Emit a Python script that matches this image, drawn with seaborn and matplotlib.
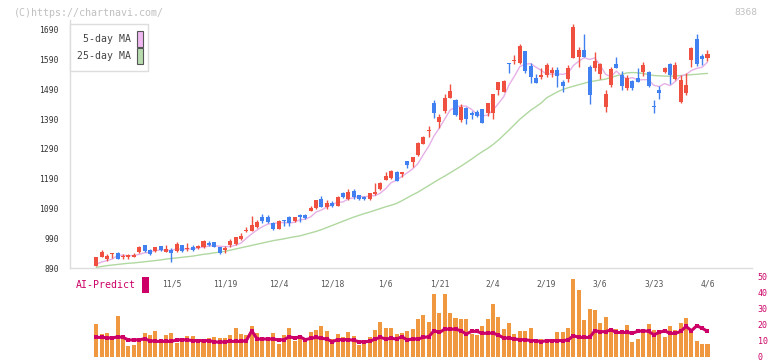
import numpy as np
import matplotlib
matplotlib.use("Agg")
import matplotlib.pyplot as plt
from matplotlib.patches import Rectangle
import seaborn as sns

sns.set_theme(style="white")
plt.rcParams["font.family"] = ["DejaVu Sans Mono"]

# %% Data (day -1 is the clipped candle at the left edge)
opens = [870,
         898, 928, 919, 937, 940, 927, 928, 928, 944, 967,
         950, 947, 964, 945, 949, 947, 967, 954, 960, 958,
         960, 973, 977, 960, 950, 967, 970, 987, 1015, 1014,
         1029, 1060, 1060, 1040, 1021, 1051, 1063, 1047, 1067, 1069,
         1083, 1091, 1122, 1096, 1110, 1100, 1143, 1121, 1149, 1135,
         1130, 1122, 1139, 1155, 1186, 1192, 1214, 1205, 1250, 1247,
         1270, 1308, 1349, 1446, 1382, 1419, 1462, 1455, 1387, 1427,
         1410, 1415, 1424, 1411, 1411, 1488, 1483, 1579, 1587, 1578,
         1619, 1569, 1530, 1533, 1539, 1546, 1555, 1516, 1525, 1597,
         1598, 1623, 1567, 1563, 1542, 1432, 1505, 1576, 1539, 1496,
         1520, 1530, 1548, 1548, 1434, 1488, 1548, 1576, 1525, 1447,
         1477, 1589, 1660, 1603, 1596]
closes = [889,
          927, 944, 931, 940, 921, 930, 934, 934, 960, 947,
          938, 960, 951, 954, 941, 970, 947, 958, 952, 963,
          981, 967, 962, 941, 957, 981, 993, 999, 1019, 1033,
          1045, 1049, 1046, 1021, 1049, 1049, 1042, 1060, 1060, 1058,
          1092, 1119, 1096, 1110, 1098, 1130, 1128, 1144, 1130, 1122,
          1121, 1143, 1147, 1177, 1199, 1217, 1184, 1212, 1237, 1263,
          1311, 1331, 1354, 1412, 1396, 1460, 1485, 1404, 1432, 1391,
          1405, 1401, 1378, 1445, 1475, 1515, 1519, 1575, 1590, 1636,
          1553, 1533, 1511, 1539, 1572, 1555, 1535, 1502, 1563, 1701,
          1623, 1598, 1471, 1586, 1576, 1475, 1559, 1563, 1503, 1530,
          1496, 1516, 1572, 1503, 1431, 1479, 1563, 1539, 1572, 1522,
          1505, 1630, 1576, 1592, 1609]
highs = [889,
         928, 950, 937, 940, 944, 938, 937, 940, 964, 967,
         954, 960, 964, 967, 958, 977, 967, 974, 967, 967,
         983, 981, 977, 962, 964, 987, 995, 1009, 1027, 1065,
         1050, 1071, 1068, 1045, 1051, 1051, 1064, 1062, 1073, 1071,
         1097, 1120, 1132, 1119, 1115, 1133, 1146, 1155, 1155, 1136,
         1133, 1143, 1177, 1180, 1212, 1219, 1216, 1213, 1251, 1264,
         1312, 1333, 1367, 1455, 1407, 1475, 1508, 1458, 1441, 1430,
         1417, 1420, 1426, 1446, 1476, 1516, 1522, 1580, 1606, 1642,
         1621, 1579, 1543, 1561, 1580, 1566, 1566, 1521, 1572, 1710,
         1634, 1677, 1572, 1615, 1578, 1488, 1567, 1598, 1552, 1539,
         1522, 1563, 1582, 1552, 1455, 1503, 1566, 1578, 1583, 1539,
         1544, 1632, 1677, 1609, 1623]
lows = [868,
        897, 927, 912, 924, 920, 921, 921, 927, 941, 944,
        934, 944, 947, 944, 911, 945, 944, 947, 947, 954,
        958, 965, 960, 938, 941, 962, 968, 984, 1010, 1013,
        1026, 1040, 1040, 1018, 1020, 1031, 1030, 1046, 1045, 1055,
        1080, 1089, 1096, 1089, 1095, 1099, 1124, 1120, 1122, 1119,
        1118, 1120, 1136, 1153, 1185, 1190, 1183, 1195, 1227, 1230,
        1268, 1306, 1329, 1393, 1362, 1410, 1460, 1402, 1381, 1373,
        1390, 1398, 1376, 1401, 1392, 1473, 1481, 1544, 1576, 1576,
        1544, 1511, 1511, 1524, 1533, 1533, 1499, 1480, 1516, 1597,
        1567, 1598, 1441, 1553, 1524, 1415, 1499, 1562, 1488, 1488,
        1488, 1515, 1536, 1500, 1412, 1458, 1546, 1508, 1523, 1444,
        1470, 1565, 1570, 1572, 1587]

ma5 = [903, 910, 915, 920, 933, 933, 931, 932, 936, 941,
       943, 948, 951, 950, 949, 955, 953, 954, 954, 958,
       960, 964, 965, 963, 962, 962, 967, 974, 990, 1005,
       1018, 1029, 1038, 1039, 1042, 1043, 1041, 1044, 1052, 1054,
       1062, 1078, 1085, 1095, 1103, 1111, 1112, 1122, 1126, 1131,
       1129, 1132, 1133, 1142, 1157, 1177, 1185, 1198, 1210, 1223,
       1241, 1271, 1299, 1334, 1361, 1391, 1421, 1431, 1435, 1434,
       1423, 1407, 1401, 1404, 1421, 1443, 1466, 1506, 1535, 1567,
       1575, 1577, 1565, 1554, 1542, 1542, 1542, 1541, 1545, 1571,
       1585, 1597, 1591, 1596, 1571, 1541, 1533, 1552, 1535, 1526,
       1530, 1522, 1523, 1523, 1504, 1500, 1510, 1503, 1517, 1535,
       1540, 1554, 1561, 1565, 1582]
ma25 = [892, 895, 898, 900, 902, 904, 906, 907, 909, 911,
        913, 915, 917, 920, 922, 924, 926, 928, 930, 933,
        936, 938, 941, 943, 946, 950, 954, 958, 962, 966,
        970, 974, 978, 982, 985, 988, 992, 995, 998, 1003,
        1008, 1013, 1019, 1026, 1033, 1040, 1047, 1054, 1061, 1067,
        1073, 1078, 1084, 1090, 1096, 1101, 1107, 1116, 1126, 1136,
        1145, 1156, 1167, 1178, 1189, 1199, 1210, 1221, 1232, 1244,
        1256, 1269, 1281, 1292, 1305, 1320, 1337, 1354, 1372, 1390,
        1405, 1420, 1432, 1445, 1462, 1472, 1482, 1490, 1496, 1501,
        1506, 1511, 1516, 1519, 1522, 1525, 1530, 1536, 1541, 1546,
        1547, 1546, 1544, 1540, 1537, 1536, 1535, 1535, 1535, 1537,
        1538, 1540, 1541, 1543, 1544]

volume = [20.3, 14.1, 14.7, 12.0, 25.3, 12.0, 6.6, 7.3, 11.0, 14.7,
          13.5, 16.0, 8.5, 13.5, 14.7, 8.5, 11.0, 12.9, 12.9, 9.8,
          9.8, 11.6, 12.2, 11.6, 11.6, 13.5, 17.8, 14.1, 13.5, 19.1,
          14.7, 11.0, 11.0, 14.7, 7.9, 13.5, 17.8, 9.8, 12.9, 10.4,
          15.4, 16.6, 19.1, 16.0, 11.0, 14.1, 12.2, 15.4, 12.9, 7.3,
          8.5, 12.2, 16.6, 21.6, 17.8, 17.8, 14.1, 14.7, 16.0, 17.2,
          23.4, 25.9, 21.8, 39.6, 27.2, 39.6, 27.2, 23.9, 23.4, 23.4,
          14.1, 13.5, 19.1, 23.4, 32.8, 24.7, 17.2, 21.2, 14.1, 16.0,
          16.0, 17.8, 9.8, 11.0, 9.8, 9.1, 15.4, 15.4, 17.8, 49.0,
          42.1, 22.8, 29.7, 29.0, 21.0, 24.7, 17.2, 17.2, 16.0, 19.7,
          9.1, 11.0, 16.0, 20.3, 16.6, 14.1, 12.2, 19.1, 16.6, 21.0,
          24.1, 16.6, 9.8, 7.9, 7.9]
ai_predict = [12.0, 12.0, 11.8, 11.6, 12.4, 12.0, 10.4, 10.4, 10.6, 11.0,
              10.0, 9.5, 9.5, 9.5, 9.5, 10.4, 10.6, 10.4, 10.0, 10.0,
              10.0, 10.0, 9.3, 8.9, 9.3, 9.5, 9.5, 9.5, 10.0, 16.2,
              11.0, 11.0, 11.0, 11.0, 10.4, 10.6, 12.4, 11.6, 12.4, 10.6,
              11.4, 12.0, 11.4, 11.0, 9.3, 10.6, 10.6, 10.6, 10.2, 9.3,
              9.3, 9.5, 11.0, 12.0, 11.0, 11.4, 11.0, 12.4, 10.4, 11.0,
              11.0, 12.0, 12.4, 16.2, 15.1, 17.2, 17.2, 17.2, 16.2, 14.1,
              15.8, 15.8, 14.5, 14.7, 14.7, 13.5, 11.6, 11.6, 11.0, 10.6,
              10.6, 10.0, 10.0, 9.3, 10.0, 10.0, 10.0, 10.0, 10.4, 13.1,
              12.0, 12.0, 12.0, 16.2, 15.6, 15.6, 16.8, 15.1, 15.1, 15.1,
              14.7, 15.8, 16.2, 15.8, 13.7, 15.1, 16.2, 14.5, 14.5, 15.8,
              18.9, 16.2, 19.3, 17.8, 15.8]

date_labels = ["11/5", "11/19", "12/4", "12/18", "1/6", "1/21",
               "2/4", "2/19", "3/6", "3/23", "4/6"]
label_days = list(range(14, 115, 10))
price_ticks = list(range(890, 1691, 100))
volume_ticks = [0, 10, 20, 30, 40, 50]

candle_days = np.arange(-1, len(opens) - 1)
days = np.arange(len(ma5))

RED, BLUE = "#f0503f", "#4080f0"
PINK, GREEN = "#e6b0e6", "#b0d8a0"
ORANGE, CRIMSON = "#f0983f", "#cc0066"
GRID = "#dddddd"

# %% Figure and axes placed in pixels
W, H = 772, 361
fig = plt.figure(figsize=(W / 100, H / 100), dpi=100)


def px_axes(x0, y0, x1, y1):
    return fig.add_axes([x0 / W, 1 - y1 / H, (x1 - x0) / W, (y1 - y0) / H])


axv = px_axes(70, 269, 752, 356.5)
ax = px_axes(70, 20, 752, 268)
axv.patch.set_visible(False)
ax.patch.set_visible(False)
x_lo, x_hi = -4.9, 122.3

# %% Price panel
sns.lineplot(x=days, y=ma25, ax=ax, color=GREEN, lw=1.0, zorder=2)
sns.lineplot(x=days, y=ma5, ax=ax, color=PINK, lw=1.0, zorder=2)

o, c = np.array(opens), np.array(closes)
cols = np.where(c >= o, RED, BLUE)
ax.vlines(candle_days, lows, highs, colors=cols, lw=1, zorder=3)
ax.bar(candle_days, np.maximum(np.abs(c - o), 2.5), bottom=np.minimum(o, c),
       width=0.75, color=cols, lw=0, zorder=4)

ax.set_xlim(x_lo, x_hi)
ax.set_ylim(890, 1723.6)
ax.set(xlabel="", ylabel="")
for s in ["top", "right"]:
    ax.spines[s].set_visible(False)
for s in ["left", "bottom"]:
    ax.spines[s].set_color(GRID)
    ax.spines[s].set_linewidth(1)
ax.set_yticks(price_ticks)
ax.tick_params(axis="y", length=4, width=1, color=GRID, labelsize=5.8,
               labelcolor="#333333", pad=4)
ax.set_xticks(label_days, date_labels)
ax.tick_params(axis="x", which="major", length=0, labelsize=5.8,
               labelcolor="#555555", pad=8)
ax.set_xticks(np.linspace(x_lo, x_hi, 12), minor=True)
ax.tick_params(axis="x", which="minor", direction="inout", length=6,
               width=1, color=GRID)

# %% Volume / AI-Predict panel
sns.barplot(x=days, y=volume, ax=axv, native_scale=True, color=ORANGE,
            saturation=1, width=0.75, errorbar=None, linewidth=0, zorder=1)
sns.lineplot(x=days, y=ai_predict, ax=axv, color=CRIMSON, lw=2.2,
             marker="s", markersize=2.5, markeredgewidth=0, zorder=3)
axv.set_xlim(x_lo, x_hi)
axv.set_ylim(0, 55)
axv.set(xlabel="", ylabel="")
for s in axv.spines.values():
    s.set_visible(False)
axv.set_xticks([])
axv.yaxis.tick_right()
axv.set_yticks(volume_ticks)
axv.tick_params(axis="y", length=0, labelsize=6, labelcolor=CRIMSON, pad=4)

# %% Legend, watermark and labels
fig.add_artist(Rectangle((70 / W, 1 - 71 / H), 78 / W, 47 / H,
                         transform=fig.transFigure, facecolor="white",
                         edgecolor=GRID, lw=1, zorder=5))
fig.text(131 / W, 1 - 39 / H, "5-day MA", ha="right", va="center",
         fontsize=7.1, color="#444444", zorder=6)
fig.text(131 / W, 1 - 56 / H, "25-day MA", ha="right", va="center",
         fontsize=7.1, color="#444444", zorder=6)
fig.add_artist(Rectangle((136.5 / W, 1 - 46.5 / H), 6 / W, 15.5 / H,
                         transform=fig.transFigure, facecolor="#f0b8f0",
                         edgecolor="#555555", lw=0.8, zorder=6))
fig.add_artist(Rectangle((136.5 / W, 1 - 63.5 / H), 6 / W, 15.5 / H,
                         transform=fig.transFigure, facecolor="#b8dcb0",
                         edgecolor="#555555", lw=0.8, zorder=6))

fig.text(14 / W, 1 - 12.5 / H, "(C)https://chartnavi.com/", ha="left",
         va="center", fontsize=7.2, color="#c0c0c0")
fig.text(757 / W, 1 - 12.5 / H, "8368", ha="right", va="center",
         fontsize=6.8, color="#c0c0c0")

fig.text(76 / W, 1 - 285.5 / H, "AI-Predict", ha="left", va="center",
         fontsize=7.1, color=CRIMSON)
fig.add_artist(Rectangle((142 / W, 1 - 293 / H), 6.5 / W, 16 / H,
                         transform=fig.transFigure, facecolor=CRIMSON,
                         edgecolor="none", zorder=6))

fig.savefig("out.png", dpi=100)
